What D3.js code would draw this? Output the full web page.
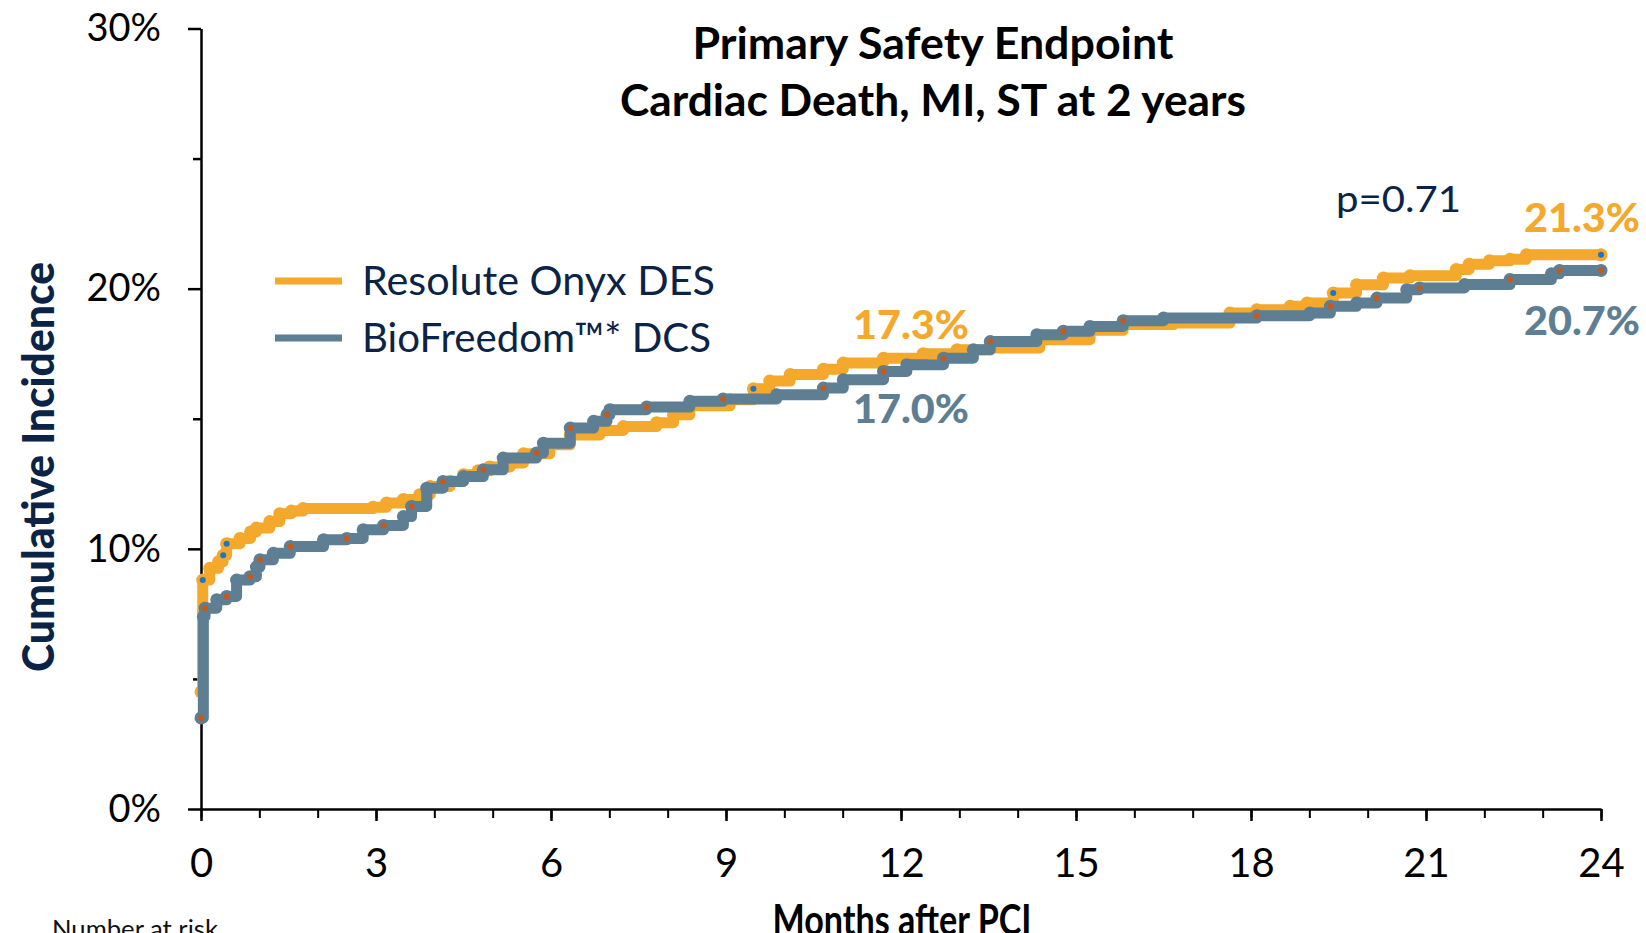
<!DOCTYPE html>
<html>
<head>
<meta charset="utf-8">
<script src="https://cdn.jsdelivr.net/npm/d3@7"></script>
<style>
  body { margin: 0; background: #fff; }
  svg { display: block; }
</style>
</head>
<body>
<div id="chart"></div>
<script>
// Kaplan-Meier cumulative incidence (%)
const onyxMonths = [0, 0.03, 0.15, 0.3, 0.38, 0.44, 0.67, 0.85, 0.95, 1.18, 1.35, 1.55, 1.75, 2.95, 3.18, 3.47, 3.75, 3.93, 4.27, 4.5, 4.75, 4.95, 5.3, 5.53, 5.98, 6.33, 6.84, 7.24, 7.81, 8.1, 8.38, 9.07, 9.47, 9.75, 10.1, 10.67, 11.01, 11.7, 12.38, 12.96, 13.53, 14.38, 15.24, 15.81, 16.67, 17.64, 18.1, 18.67, 18.96, 19.41, 19.81, 20.27, 20.73, 21.52, 21.74, 22.09, 22.44, 22.72, 24];
const onyxPct = [4.5, 8.8, 9.25, 9.5, 9.75, 10.2, 10.4, 10.65, 10.8, 11.05, 11.35, 11.45, 11.55, 11.6, 11.76, 11.9, 12.08, 12.4, 12.6, 12.85, 13.0, 13.15, 13.3, 13.65, 14.0, 14.38, 14.55, 14.7, 14.85, 15.15, 15.5, 15.73, 16.15, 16.45, 16.7, 16.9, 17.14, 17.33, 17.5, 17.65, 17.72, 18.04, 18.4, 18.62, 18.68, 19.06, 19.19, 19.32, 19.45, 19.83, 20.15, 20.41, 20.5, 20.74, 20.94, 21.07, 21.13, 21.3, 21.3];

const bioMonths = [0, 0.04, 0.07, 0.27, 0.44, 0.61, 0.84, 0.95, 1.01, 1.24, 1.53, 2.1, 2.5, 2.78, 3.13, 3.47, 3.61, 3.87, 4.15, 4.5, 4.84, 5.18, 5.75, 5.87, 6.33, 6.73, 6.96, 7.01, 7.64, 8.38, 8.95, 9.87, 10.67, 11.01, 11.7, 12.1, 12.73, 13.24, 13.53, 14.33, 14.78, 15.24, 15.81, 16.5, 18.1, 19.01, 19.36, 19.81, 20.16, 20.67, 20.89, 21.66, 22.44, 23.15, 23.29, 24];
const bioPct = [3.5, 7.4, 7.72, 8.04, 8.17, 8.8, 8.93, 9.3, 9.58, 9.83, 10.09, 10.35, 10.4, 10.73, 10.9, 11.24, 11.63, 12.33, 12.59, 12.78, 13.04, 13.49, 13.68, 14.06, 14.64, 14.9, 15.15, 15.35, 15.45, 15.67, 15.76, 15.92, 16.18, 16.5, 16.82, 17.08, 17.33, 17.65, 17.97, 18.23, 18.36, 18.55, 18.77, 18.87, 18.96, 19.06, 19.32, 19.45, 19.64, 19.96, 20.03, 20.16, 20.35, 20.57, 20.7, 20.7];

// points on the Onyx curve carrying a small blue marker
const onyxMarked = [0, 0.03, 0.38, 0.44, 9.47, 19.41, 24];

const seriesNames = ["Resolute Onyx DES", "BioFreedom\u2122* DCS"];
const yMajor = [0, 10, 20, 30];
const yMinor = [5, 15, 25];
const xMajor = [0, 3, 6, 9, 12, 15, 18, 21, 24];
const xMinor = d3.range(0, 25);

const orange = "#f4a82c";
const slate = "#5e7f93";
const navy = "#0b2346";

const width = 1646, height = 933;
const x = d3.scaleLinear([0, 24], [201, 1601]);
const y = d3.scaleLinear([0, 30], [809, 28.5]);

const svg = d3.select("#chart").append("svg")
  .attr("width", width)
  .attr("height", height)
  .attr("viewBox", [0, 0, width, height])
  .style("font-family", "Lato, 'Open Sans', sans-serif");

// title
svg.append("g")
  .attr("font-weight", 700)
  .attr("font-size", 43)
  .attr("fill", "#000")
  .attr("text-anchor", "middle")
  .selectAll("text")
  .data([["Primary Safety Endpoint", 59, 481], ["Cardiac Death, MI, ST at 2 years", 116, 626]])
  .join("text")
  .attr("x", 933)
  .attr("y", d => d[1])
  .attr("textLength", d => d[2])
  .attr("lengthAdjust", "spacingAndGlyphs")
  .text(d => d[0]);

// y axis
svg.append("g")
  .attr("transform", `translate(${x(0)},0)`)
  .call(d3.axisLeft(y).tickValues(yMinor).tickSize(8).tickFormat(""))
  .call(g => g.select(".domain").remove())
  .call(g => g.selectAll(".tick line").attr("stroke", "#000").attr("stroke-width", 2.5));

svg.append("g")
  .attr("transform", `translate(${x(0)},0)`)
  .call(d3.axisLeft(y).tickValues(yMajor).tickSize(13).tickSizeOuter(0).tickPadding(27).tickFormat(d => d + "%"))
  .call(g => g.select(".domain").attr("stroke", "#000").attr("stroke-width", 2.5))
  .call(g => g.selectAll(".tick line").attr("stroke", "#000").attr("stroke-width", 2.5))
  .call(g => g.selectAll(".tick text")
    .attr("font-family", "Lato, sans-serif")
    .attr("font-size", 38)
    .attr("fill", "#000"));

// x axis
svg.append("g")
  .attr("transform", `translate(0,${y(0)})`)
  .call(d3.axisBottom(x).tickValues(xMinor).tickSize(9).tickFormat(""))
  .call(g => g.select(".domain").remove())
  .call(g => g.selectAll(".tick line").attr("stroke", "#000").attr("stroke-width", 2));

svg.append("g")
  .attr("transform", `translate(0,${y(0)})`)
  .call(d3.axisBottom(x).tickValues(xMajor).tickSize(12).tickSizeOuter(0).tickPadding(28))
  .call(g => g.select(".domain").attr("stroke", "#000").attr("stroke-width", 2.5))
  .call(g => g.selectAll(".tick line").attr("stroke", "#000").attr("stroke-width", 2.5))
  .call(g => g.selectAll(".tick text")
    .attr("font-family", "Lato, sans-serif")
    .attr("font-size", 40)
    .attr("fill", "#000"));

// axis titles
svg.append("text")
  .attr("transform", "translate(54,467) rotate(-90)")
  .attr("text-anchor", "middle")
  .attr("font-weight", 900)
  .attr("font-size", 43)
  .attr("fill", navy)
  .attr("textLength", 410)
  .attr("lengthAdjust", "spacingAndGlyphs")
  .text("Cumulative Incidence");

// these two sit on the bottom edge, partly cut as in the source slide
svg.append("text")
  .attr("x", 902)
  .attr("y", 935)
  .attr("text-anchor", "middle")
  .attr("font-weight", 700)
  .attr("font-size", 42)
  .attr("fill", "#000")
  .attr("textLength", 259)
  .attr("lengthAdjust", "spacingAndGlyphs")
  .text("Months after PCI");

svg.append("text")
  .attr("x", 52)
  .attr("y", 938)
  .attr("font-size", 25)
  .attr("fill", "#111")
  .attr("textLength", 166)
  .attr("lengthAdjust", "spacingAndGlyphs")
  .text("Number at risk");

// curves
const line = d3.line()
  .x(d => x(d[0]))
  .y(d => y(d[1]))
  .curve(d3.curveStepAfter);

const onyx = d3.zip(onyxMonths, onyxPct);
const bio = d3.zip(bioMonths, bioPct);

function drawCurve(data, color, dotColor, dotFilter) {
  const g = svg.append("g");
  g.append("path")
    .datum(data)
    .attr("fill", "none")
    .attr("stroke", color)
    .attr("stroke-width", 11)
    .attr("stroke-linejoin", "round")
    .attr("stroke-linecap", "round")
    .attr("d", line);
  g.selectAll("circle.mk")
    .data(data)
    .join("circle")
    .attr("class", "mk")
    .attr("cx", d => x(d[0]))
    .attr("cy", d => y(d[1]))
    .attr("r", 6.5)
    .attr("fill", color);
  g.selectAll("circle.dot")
    .data(data.filter(dotFilter))
    .join("circle")
    .attr("class", "dot")
    .attr("cx", d => x(d[0]))
    .attr("cy", d => y(d[1]))
    .attr("r", 3)
    .attr("fill", dotColor);
}

drawCurve(onyx, orange, "#1f74c4", d => onyxMarked.includes(d[0]));
drawCurve(bio, slate, "#c25b1d", (d, i) => i % 2 === 0 || d[0] === 24);

// legend
const legend = svg.append("g");
legend.selectAll("line")
  .data([[orange, 281], [slate, 338]])
  .join("line")
  .attr("x1", 275)
  .attr("x2", 342)
  .attr("y1", d => d[1])
  .attr("y2", d => d[1])
  .attr("stroke", d => d[0])
  .attr("stroke-width", 7);
legend.selectAll("text")
  .data([[seriesNames[0], 295, 353], [seriesNames[1], 352, 349]])
  .join("text")
  .attr("x", 362)
  .attr("y", d => d[1])
  .attr("font-size", 41)
  .attr("fill", navy)
  .attr("textLength", d => d[2])
  .attr("lengthAdjust", "spacingAndGlyphs")
  .text(d => d[0]);

// value annotations
const notes = [
  ["17.3%", 853, 339, orange],
  ["17.0%", 853, 423, slate],
  ["21.3%", 1524, 232, orange],
  ["20.7%", 1524, 335, slate]
];
svg.append("g")
  .attr("font-weight", 900)
  .attr("font-size", 39)
  .selectAll("text")
  .data(notes)
  .join("text")
  .attr("x", d => d[1])
  .attr("y", d => d[2])
  .attr("fill", d => d[3])
  .attr("textLength", 116)
  .attr("lengthAdjust", "spacingAndGlyphs")
  .text(d => d[0]);

svg.append("text")
  .attr("x", 1336)
  .attr("y", 212)
  .attr("font-size", 36)
  .attr("fill", navy)
  .attr("textLength", 125)
  .attr("lengthAdjust", "spacingAndGlyphs")
  .text("p=0.71");
</script>
</body>
</html>
